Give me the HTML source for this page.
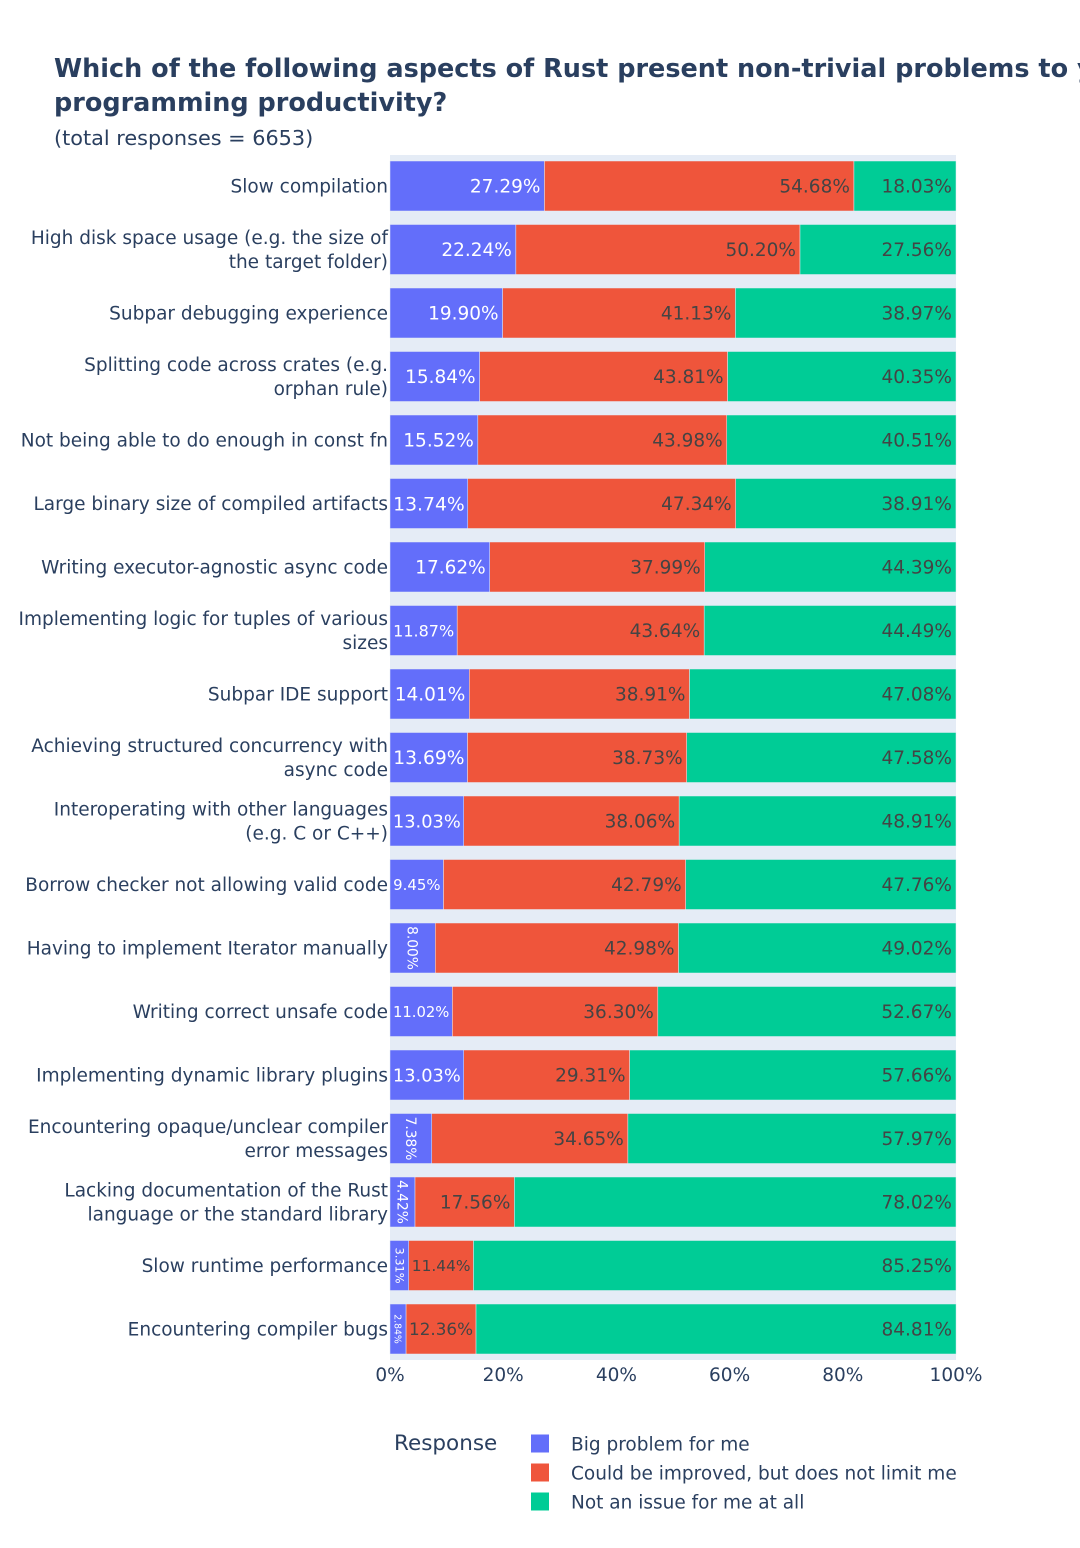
<!DOCTYPE html>
<html><head><meta charset="utf-8">
<style>
body{margin:0;background:#fff;}
svg{font-family:"DejaVu Sans","Liberation Sans",sans-serif;}
</style></head>
<body>
<svg id="chart" width="1080" height="1543" viewBox="0 0 1080 1543">
<text x="54" y="77" font-size="25.5" font-weight="bold" fill="#2a3f5f">Which of the following aspects of Rust present non-trivial problems to your</text>
<text x="54" y="111" font-size="25.5" font-weight="bold" fill="#2a3f5f">programming productivity?</text>
<text x="54" y="145" font-size="20.8" fill="#2a3f5f">(total responses = 6653)</text>
<rect x="390" y="155" width="566" height="1205" fill="#e5ecf6"/>
<g id="bars"></g>
<g id="cats"></g>
<g id="ticks"></g>
<g id="legend">
<text x="394" y="1450" font-size="21.5" fill="#2a3f5f">Response</text>
</g>
</svg>
<script>
const categories=[
"Slow compilation",
"High disk space usage (e.g. the size of|the target folder)",
"Subpar debugging experience",
"Splitting code across crates (e.g.|orphan rule)",
"Not being able to do enough in const fn",
"Large binary size of compiled artifacts",
"Writing executor-agnostic async code",
"Implementing logic for tuples of various|sizes",
"Subpar IDE support",
"Achieving structured concurrency with|async code",
"Interoperating with other languages|(e.g. C or C++)",
"Borrow checker not allowing valid code",
"Having to implement Iterator manually",
"Writing correct unsafe code",
"Implementing dynamic library plugins",
"Encountering opaque/unclear compiler|error messages",
"Lacking documentation of the Rust|language or the standard library",
"Slow runtime performance",
"Encountering compiler bugs"];
const bigProblem=[27.29,22.24,19.90,15.84,15.52,13.74,17.62,11.87,14.01,13.69,13.03,9.45,8.00,11.02,13.03,7.38,4.42,3.31,2.84];
const couldImprove=[54.68,50.20,41.13,43.81,43.98,47.34,37.99,43.64,38.91,38.73,38.06,42.79,42.98,36.30,29.31,34.65,17.56,11.44,12.36];
const notIssue=[18.03,27.56,38.97,40.35,40.51,38.91,44.39,44.49,47.08,47.58,48.91,47.76,49.02,52.67,57.66,57.97,78.02,85.25,84.81];
const seriesNames=["Big problem for me","Could be improved, but does not limit me","Not an issue for me at all"];
const xTicks=[0,20,40,60,80,100];

const NS="http://www.w3.org/2000/svg";
const X0=390,X1=956,Y0=186,STEP=63.5,BH=50,FS=18.5;
const xs=v=>X0+(X1-X0)*v/100;
const ys=i=>Y0+i*STEP;
const colors=["#636efa","#ef553b","#00cc96"];
const txtCol=["#ffffff","#444444","#444444"];
function mk(tag,attrs,parent){const e=document.createElementNS(NS,tag);for(const k in attrs)e.setAttribute(k,attrs[k]);parent.appendChild(e);return e;}
const gb=document.getElementById('bars'),gc=document.getElementById('cats'),gt=document.getElementById('ticks'),gl=document.getElementById('legend');
const series=[bigProblem,couldImprove,notIssue];
categories.forEach((c,i)=>{
  let cum=0;const yc=ys(i);
  series.forEach((s,k)=>{
    const v=s[i],xa=xs(cum),xb=xs(cum+v);cum+=v;
    const r=mk('rect',{x:xa,y:yc-BH/2,width:xb-xa,height:BH,fill:colors[k],stroke:'#e5ecf6','stroke-width':0.5},gb);
    
    
    const label=v.toFixed(2)+'%';
    const t=mk('text',{'font-size':FS,fill:txtCol[k]},gb);
    
    
    t.textContent=label;
    const w=t.getComputedTextLength()||label.length*11;
    const bw=xb-xa;
    if(w+8<=bw){
      t.setAttribute('x',xb-4);t.setAttribute('y',yc+6.5);t.setAttribute('text-anchor','end');
    }else{
      const fsH=FS*(bw-6)/w;
      const fsR=Math.min(FS*(BH-6)/w,(bw-4)/1.3);
      if(fsH>=fsR){
        const fs=fsH;t.setAttribute('font-size',fs.toFixed(1));
        t.setAttribute('x',xb-3);t.setAttribute('y',yc+fs*0.36);t.setAttribute('text-anchor','end');
      }else{
        const fs=fsR;const cx=(xa+xb)/2;
        t.setAttribute('font-size',fs.toFixed(1));t.setAttribute('text-anchor','middle');
        t.setAttribute('x',cx);t.setAttribute('y',yc+fs*0.36);
        t.setAttribute('transform','rotate(90 '+cx+' '+yc+')');
      }
    }
  });
  const parts=c.split('|');
  parts.forEach((p,j)=>{
    const t=mk('text',{x:388,y:yc+6.5+(parts.length>1?(j===0?-12:12):0),'font-size':FS,fill:'#2a3f5f','text-anchor':'end'},gc);
    
    
    t.textContent=p;
  });
});
xTicks.forEach(v=>{
  const t=mk('text',{x:xs(v),y:1381,'font-size':FS,fill:'#2a3f5f','text-anchor':'middle'},gt);
  
  
  t.textContent=v+'%';
});
seriesNames.forEach((n,k)=>{
  const y=1443.5+k*29;
  const r=mk('rect',{x:531,y:y-9,width:18,height:18,fill:colors[k]},gl);
  
  
  const t=mk('text',{x:571,y:y+7,'font-size':FS,fill:'#2a3f5f'},gl);
  
  
  t.textContent=n;
});
</script>
</body></html>
